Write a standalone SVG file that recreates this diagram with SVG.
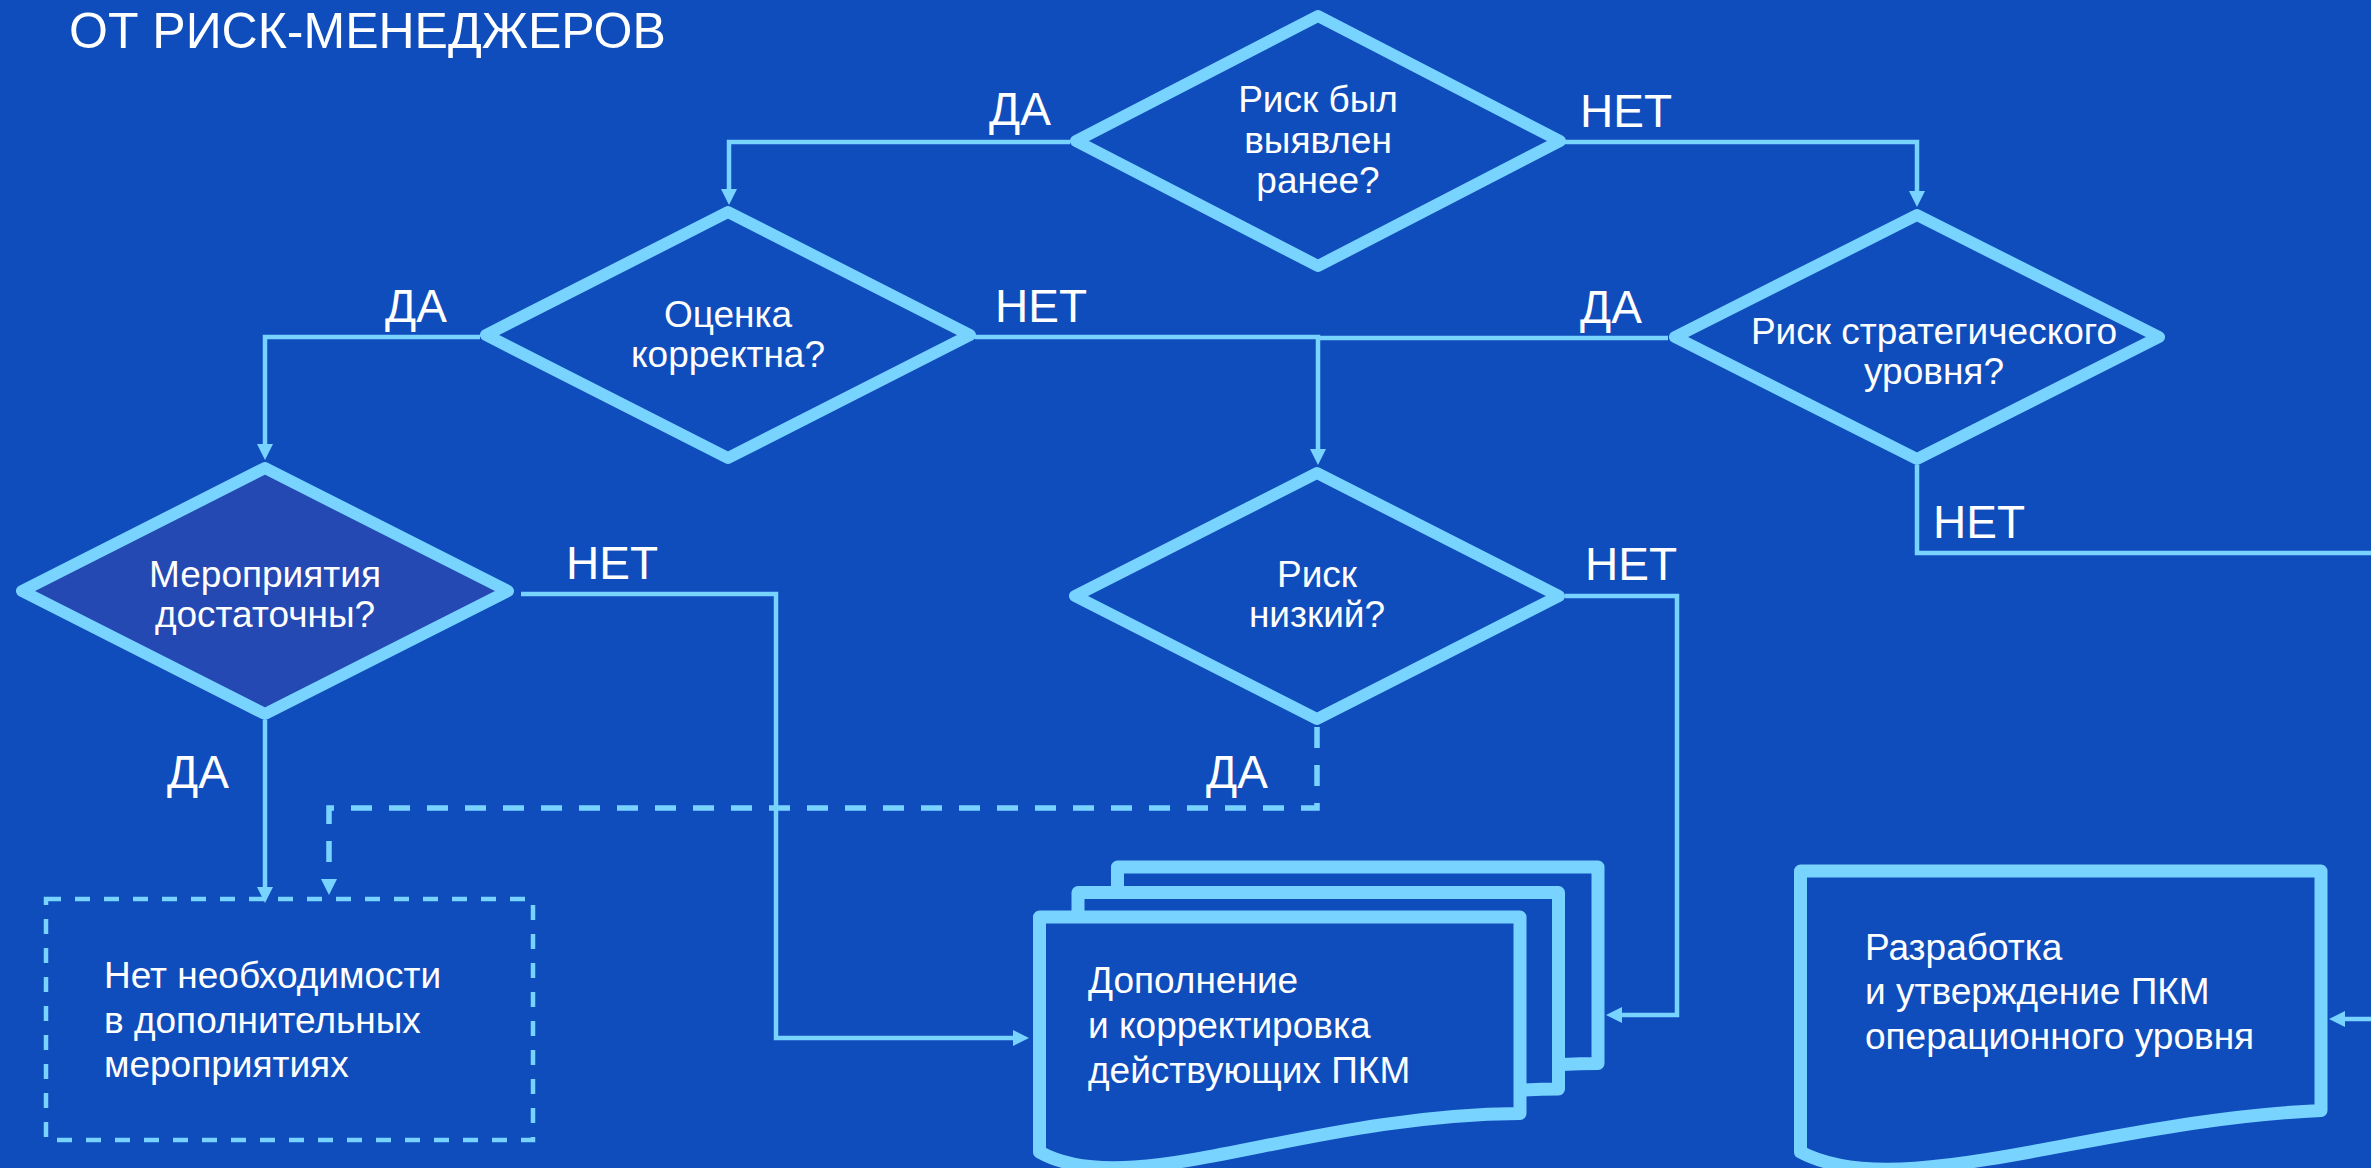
<svg xmlns="http://www.w3.org/2000/svg" width="2371" height="1168" viewBox="0 0 2371 1168">
<style>
.bg{fill:#104DBC}
.dia{fill:#104DBC;stroke:#79D3FF;stroke-width:12;stroke-linejoin:round}
.dia4{fill:#2549B3;stroke:#79D3FF;stroke-width:12;stroke-linejoin:round}
.doc{fill:#104DBC;stroke:#79D3FF;stroke-width:13;stroke-linejoin:round}
.box{fill:none;stroke:#79D3FF;stroke-width:4.5;stroke-dasharray:15 14}
.con{fill:none;stroke:#79D3FF;stroke-width:4.5;stroke-linejoin:miter}
.dash{fill:none;stroke:#79D3FF;stroke-width:5.5;stroke-dasharray:21 17}
.t{font-family:"Liberation Sans",Arial,sans-serif;fill:#FFFFFF;font-size:37px}
.c{text-anchor:middle}
.lbl{font-family:"Liberation Sans",Arial,sans-serif;fill:#FFFFFF;font-size:46px}
.title{font-family:"Liberation Sans",Arial,sans-serif;fill:#FFFFFF;font-size:50px}
</style>
<defs>
<marker id="ah" viewBox="0 0 16 16" refX="0" refY="8" markerWidth="16" markerHeight="16" markerUnits="userSpaceOnUse" orient="auto">
<path d="M0,0 L16,8 L0,16 Z" fill="#79D3FF"/>
</marker>
</defs>
<rect class="bg" x="0" y="0" width="2371" height="1168"/>
<text class="title" x="69" y="48">ОТ РИСК-МЕНЕДЖЕРОВ</text>

<g id="connectors">
<path class="con" d="M1070,142 H729 V189" marker-end="url(#ah)"/>
<path class="con" d="M1565,142 H1917 V191" marker-end="url(#ah)"/>
<path class="con" d="M480,337 H265 V444" marker-end="url(#ah)"/>
<path class="con" d="M975,337 H1318 V449" marker-end="url(#ah)"/>
<path class="con" d="M1668,338 H1318"/>
<path class="con" d="M521,594 H776 V1038 H1013" marker-end="url(#ah)"/>
<path class="con" d="M265,720 V887" marker-end="url(#ah)"/>
<path class="dash" d="M1317,727 V808 H329 V879" marker-end="url(#ah)"/>
<path class="con" d="M1565,596 H1677 V1015 H1622" marker-end="url(#ah)"/>
<path class="con" d="M1917,465 V553 H2380"/>
<path class="con" d="M2380,1019 H2345" marker-end="url(#ah)"/>
</g>

<g id="labels">
<text class="lbl" x="989" y="125">ДА</text>
<text class="lbl" x="1580" y="127">НЕТ</text>
<text class="lbl" x="385" y="322">ДА</text>
<text class="lbl" x="995" y="322">НЕТ</text>
<text class="lbl" x="1580" y="323">ДА</text>
<text class="lbl" x="1933" y="538">НЕТ</text>
<text class="lbl" x="566" y="579">НЕТ</text>
<text class="lbl" x="167" y="788">ДА</text>
<text class="lbl" x="1206" y="788">ДА</text>
<text class="lbl" x="1585" y="580">НЕТ</text>
</g>

<g id="d1">
<path class="dia" d="M1318,16 L1560,141 L1318,266 L1076,141 Z"/>
<text class="t c" x="1318" y="112">Риск был</text>
<text class="t c" x="1318" y="153">выявлен</text>
<text class="t c" x="1318" y="193">ранее?</text>
</g>

<g id="d2">
<path class="dia" d="M728,212 L970,335 L728,458 L486,335 Z"/>
<text class="t c" x="728" y="327">Оценка</text>
<text class="t c" x="728" y="367">корректна?</text>
</g>

<g id="d3">
<path class="dia" d="M1917,215 L2159,337 L1917,459 L1675,337 Z"/>
<text class="t c" x="1934" y="344">Риск стратегического</text>
<text class="t c" x="1934" y="384">уровня?</text>
</g>

<g id="d4">
<path class="dia4" d="M265,468 L508,591 L265,714 L22,591 Z"/>
<text class="t c" x="265" y="587">Мероприятия</text>
<text class="t c" x="265" y="627">достаточны?</text>
</g>

<g id="d5">
<path class="dia" d="M1317,473 L1559,596 L1317,719 L1075,596 Z"/>
<text class="t c" x="1317" y="587">Риск</text>
<text class="t c" x="1317" y="627">низкий?</text>
</g>

<g id="box-none">
<rect class="box" x="46" y="899" width="487" height="241"/>
<text class="t" x="104" y="988">Нет необходимости</text>
<text class="t" x="104" y="1033">в дополнительных</text>
<text class="t" x="104" y="1077">мероприятиях</text>
</g>

<g id="doc-stack">
<path class="doc" transform="translate(78,-50)" d="M1039.5,917 H1520 V1113.5 C1300,1115 1131,1203 1039.5,1152 Z"/>
<path class="doc" transform="translate(38.5,-24.5)" d="M1039.5,917 H1520 V1113.5 C1300,1115 1131,1203 1039.5,1152 Z"/>
<path class="doc" d="M1039.5,917 H1520 V1113.5 C1300,1115 1131,1203 1039.5,1152 Z"/>
<text class="t" x="1088" y="993">Дополнение</text>
<text class="t" x="1088" y="1038">и корректировка</text>
<text class="t" x="1088" y="1083">действующих ПКМ</text>
</g>

<g id="doc-dev">
<path class="doc" d="M1800.5,871 H2321 V1110.5 C2100,1120 1900,1205 1800.5,1152 Z"/>
<text class="t" x="1865" y="960">Разработка</text>
<text class="t" x="1865" y="1004">и утверждение ПКМ</text>
<text class="t" x="1865" y="1049">операционного уровня</text>
</g>
</svg>
